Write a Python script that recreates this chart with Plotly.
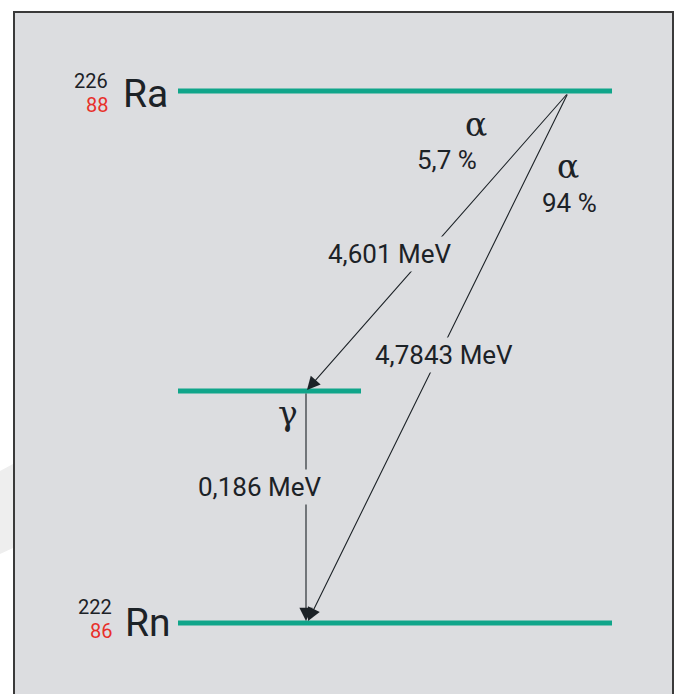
import plotly.graph_objects as go

# ---- data (schematic diagram coordinates) ----
level_names = ["Ra-226", "excited Rn-222", "Rn-222"]
level_y = [91, 391, 623]
level_x0 = [178, 178, 178]
level_x1 = [612, 361, 612]

transition_from = [(568, 93), (568, 93), (306, 392)]
transition_to = [(307, 390), (308, 621), (306, 621)]
transition_labels = ["4,601 MeV", "4,7843 MeV", "0,186 MeV"]
transition_label_pos = [(390, 254), (444, 355), (260, 487)]

branch_symbols = ["α", "α", "γ"]
branch_symbol_pos = [(476, 124), (568, 166), (288, 413)]
branch_ratios = ["5,7 %", "94 %"]
branch_ratio_pos = [(447, 160), (569, 203)]

nuclides = ["Ra", "Rn"]
mass_numbers = ["226", "222"]
atomic_numbers = ["88", "86"]
nuclide_pos = [(145, 94), (148, 623)]
mass_pos = [(109, 81), (113, 607)]
atomic_pos = [(109, 105), (113, 631)]

BG = "#dcdde0"
TEAL = "#10a58a"
INK = "#1c2227"
RED = "#e8302a"
SANS = "Roboto, Liberation Sans, Arial"
SERIF = "DejaVu Serif, Liberation Serif, serif"

fig = go.Figure()

shapes = [
    dict(type="path", path="M 0 471 L 13 464 L 13 548 L 0 554 Z",
         fillcolor="#eeeeee", line=dict(width=0), layer="below"),
    dict(type="rect", x0=14, y0=12, x1=673, y1=700, fillcolor=BG,
         line=dict(color="#3a3a3a", width=2), layer="below"),
]

for name, y, x0, x1 in zip(level_names, level_y, level_x0, level_x1):
    fig.add_trace(go.Scatter(x=[x0, x1], y=[y, y], mode="lines", name=name,
                             line=dict(color=TEAL, width=5), hoverinfo="skip",
                             showlegend=False))

annotations = []
for (fx, fy), (tx, ty) in zip(transition_from, transition_to):
    annotations.append(dict(x=tx, y=ty, ax=fx, ay=fy, xref="x", yref="y",
                            axref="x", ayref="y", text="", showarrow=True,
                            arrowhead=2, arrowsize=2.4, arrowwidth=1.1,
                            arrowcolor=INK, standoff=0))

for lab, (x, y) in zip(transition_labels, transition_label_pos):
    annotations.append(dict(x=x, y=y, xref="x", yref="y", text=lab, showarrow=False,
                            font=dict(family=SANS, size=26, color=INK),
                            bgcolor=BG, borderpad=2))

for sym, (x, y) in zip(branch_symbols, branch_symbol_pos):
    annotations.append(dict(x=x, y=y, xref="x", yref="y", text=sym, showarrow=False,
                            font=dict(family=SERIF, size=33, color=INK)))

for lab, (x, y) in zip(branch_ratios, branch_ratio_pos):
    annotations.append(dict(x=x, y=y, xref="x", yref="y", text=lab, showarrow=False,
                            font=dict(family=SANS, size=26, color=INK)))

for nm, (x, y) in zip(nuclides, nuclide_pos):
    annotations.append(dict(x=x, y=y, xref="x", yref="y", text=nm, showarrow=False,
                            font=dict(family=SANS, size=39, color=INK)))
for m, (x, y) in zip(mass_numbers, mass_pos):
    annotations.append(dict(x=x, y=y, xref="x", yref="y", text=m, showarrow=False,
                            xanchor="right", borderpad=0,
                            font=dict(family=SANS, size=20, color=INK)))
for z, (x, y) in zip(atomic_numbers, atomic_pos):
    annotations.append(dict(x=x, y=y, xref="x", yref="y", text=z, showarrow=False,
                            xanchor="right", borderpad=0,
                            font=dict(family=SANS, size=20, color=RED)))

fig.update_layout(
    width=674, height=694,
    margin=dict(l=0, r=0, t=0, b=0),
    paper_bgcolor="white", plot_bgcolor="white",
    xaxis=dict(range=[0, 674], visible=False, fixedrange=True),
    yaxis=dict(range=[694, 0], visible=False, fixedrange=True),
    shapes=shapes, annotations=annotations, showlegend=False,
)

fig.write_html("out.html", config={"displayModeBar": False},
               post_script="document.body.style.margin='0';document.body.style.overflow='hidden';")
